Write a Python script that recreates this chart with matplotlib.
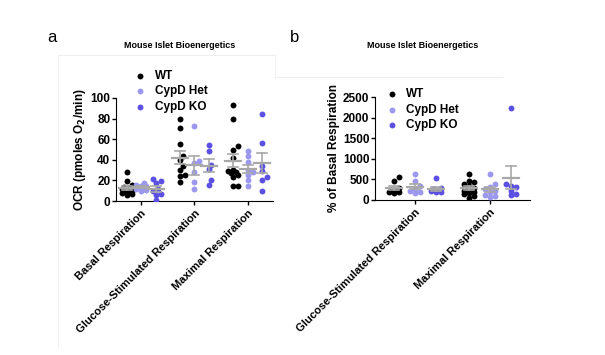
import numpy as np
import matplotlib.pyplot as plt

plt.rcParams['font.family'] = ['Liberation Sans', 'DejaVu Sans']
plt.rcParams['font.weight'] = 'bold'

groups = ['WT', 'CypD Het', 'CypD KO']
colors = ['#000000', '#9b98ee', '#5b50e2']

# panel a: OCR (pmoles O2/min)
cats_a = ['Basal Respiration', 'Glucose-Stimulated Respiration', 'Maximal Respiration']
basal_wt = [28, 19, 16, 14, 12, 11, 10, 9, 8, 7, 6, 10, 13]
basal_het = [17, 16, 15, 14, 13, 12, 11, 10, 15]
basal_ko = [21, 19, 17, 12, 10, 7, 6, 1]
gsr_wt = [80, 71, 55, 44, 40, 34, 30, 25, 24, 18]
gsr_het = [73, 39, 37, 28, 18, 12]
gsr_ko = [54, 49, 35, 31, 20, 16]
max_wt = [93, 80, 53, 50, 42, 30, 29, 28, 27, 25, 23, 15, 15]
max_het = [49, 44, 38, 30, 28, 25, 20, 15]
max_ko = [84, 56, 34, 29, 23, 20, 10]

# panel b: % of basal respiration
cats_b = ['Glucose-Stimulated Respiration', 'Maximal Respiration']
pgsr_wt = [560, 470, 280, 250, 230, 220, 200, 190, 180]
pgsr_het = [620, 450, 350, 270, 230, 190, 160]
pgsr_ko = [545, 280, 260, 240, 220, 200, 190]
pmax_wt = [630, 470, 430, 400, 350, 300, 280, 250, 230, 200, 180, 150, 100, 60]
pmax_het = [620, 390, 310, 270, 230, 190, 130, 80, 100]
pmax_ko = [2230, 400, 350, 310, 230, 150, 110]

data_a = [[basal_wt, basal_het, basal_ko],
          [gsr_wt, gsr_het, gsr_ko],
          [max_wt, max_het, max_ko]]
data_b = [[pgsr_wt, pgsr_het, pgsr_ko],
          [pmax_wt, pmax_het, pmax_ko]]


def swarm(vals, ax, dot_px=6.0, maxoff=7.0):
    """compact beeswarm offsets in pixels, overlap allowed"""
    vals = np.asarray(vals, float)
    ypix = ax.transData.transform(np.c_[np.zeros_like(vals), vals])[:, 1]
    order = np.argsort(ypix)
    cands = [0.0]
    step = 2.5
    k = 1
    while k * step <= maxoff:
        cands += [k * step, -k * step]
        k += 1
    placed = []
    xoff = np.zeros(len(vals))
    for i in order:
        best, bestd = 0.0, -1
        for c in cands:
            d = min([np.hypot(c - px, ypix[i] - py) for px, py in placed] or [99])
            if d >= dot_px * 0.8:
                best = c
                break
            if d > bestd:
                best, bestd = c, d
        placed.append((best, ypix[i]))
        xoff[i] = best
    return xoff


def panel(ax, data, cats, ylim, yticks, ylabel, gap, xlim):
    ax.set_xlim(*xlim)
    ax.set_ylim(*ylim)
    fig.canvas.draw()
    xpix_per_unit = ax.transData.transform((1, 0))[0] - ax.transData.transform((0, 0))[0]
    for ci, grp in enumerate(data):
        for gi, vals in enumerate(grp):
            xc = ci + (gi - 1) * gap
            off = swarm(vals, ax) / xpix_per_unit
            ax.scatter(xc + off, vals, s=18, color=colors[gi], zorder=3,
                       linewidths=0, label=groups[gi] if ci == 0 else None)
            m = np.mean(vals)
            se = np.std(vals, ddof=1) / np.sqrt(len(vals))
            hw = 8 / xpix_per_unit
            cw = 5 / xpix_per_unit
            ax.plot([xc - hw, xc + hw], [m, m], color='#a8a8a8', lw=1.6, zorder=4)
            ax.plot([xc, xc], [m - se, m + se], color='#a8a8a8', lw=1.2, zorder=4)
            ax.plot([xc - cw, xc + cw], [m + se, m + se], color='#a8a8a8', lw=1.2, zorder=4)
            ax.plot([xc - cw, xc + cw], [m - se, m - se], color='#a8a8a8', lw=1.2, zorder=4)
    ax.set_xticks(range(len(cats)))
    ax.set_xticklabels(cats, rotation=45, ha='right', rotation_mode='anchor',
                       fontsize=8, fontweight='bold')
    ax.set_yticks(yticks)
    ax.tick_params(axis='y', labelsize=8.5, length=3, width=1, pad=1)
    ax.tick_params(axis='x', length=3, width=1, pad=2)
    for lab in ax.get_yticklabels():
        lab.set_fontweight('bold')
    ax.spines['top'].set_visible(False)
    ax.spines['right'].set_visible(False)
    ax.set_ylabel(ylabel, fontsize=8.5, fontweight='bold', labelpad=2)


fig = plt.figure(figsize=(6.05, 3.55), dpi=100)

# faint frame lines from the original layout
fig.add_artist(plt.Line2D([58 / 605, 275 / 605], [1 - 55 / 355, 1 - 55 / 355],
                          color='#eeeeee', lw=0.8))
fig.add_artist(plt.Line2D([58 / 605, 58 / 605], [1 - 55 / 355, 0.02],
                          color='#f2f2f2', lw=0.8))
fig.add_artist(plt.Line2D([275 / 605, 275 / 605], [1 - 55 / 355, 1 - 77 / 355],
                          color='#f2f2f2', lw=0.8))
fig.add_artist(plt.Line2D([275 / 605, 502 / 605], [1 - 77 / 355, 1 - 77 / 355],
                          color='#eeeeee', lw=0.8))

ax1 = fig.add_axes([116 / 605, 1 - 201 / 355, 157 / 605, 103 / 355])
panel(ax1, data_a, cats_a, (0, 100), [0, 20, 40, 60, 80, 100],
      'OCR (pmoles O$_\\mathbf{2}$/min)', 0.27, (-0.47, 2.47))
ax1.legend(loc='upper left', bbox_to_anchor=(0.05, 1.32), frameon=False,
           handletextpad=0.2, labelspacing=0.3, borderaxespad=0,
           prop={'weight': 'bold', 'size': 8.5})

ax2 = fig.add_axes([375 / 605, 1 - 200 / 355, 155 / 605, 103 / 355])
panel(ax2, data_b, cats_b, (0, 2500), [0, 500, 1000, 1500, 2000, 2500],
      '% of Basal Respiration', 0.28, (-0.53, 1.53))
ax2.legend(loc='upper left', bbox_to_anchor=(0.0, 1.13), frameon=False,
           handletextpad=0.2, labelspacing=0.3, borderaxespad=0,
           prop={'weight': 'bold', 'size': 8.5})

fig.text(180 / 605, 1 - 46 / 355, 'Mouse Islet Bioenergetics', ha='center',
         va='center', fontsize=6.5, fontweight='bold')
fig.text(423 / 605, 1 - 46 / 355, 'Mouse Islet Bioenergetics', ha='center',
         va='center', fontsize=6.5, fontweight='bold')
fig.text(52 / 605, 1 - 38 / 355, 'a', ha='center', va='center', fontsize=12,
         fontweight='normal')
fig.text(295 / 605, 1 - 38 / 355, 'b', ha='center', va='center', fontsize=12,
         fontweight='normal')

fig.savefig('out.png', dpi=100)
